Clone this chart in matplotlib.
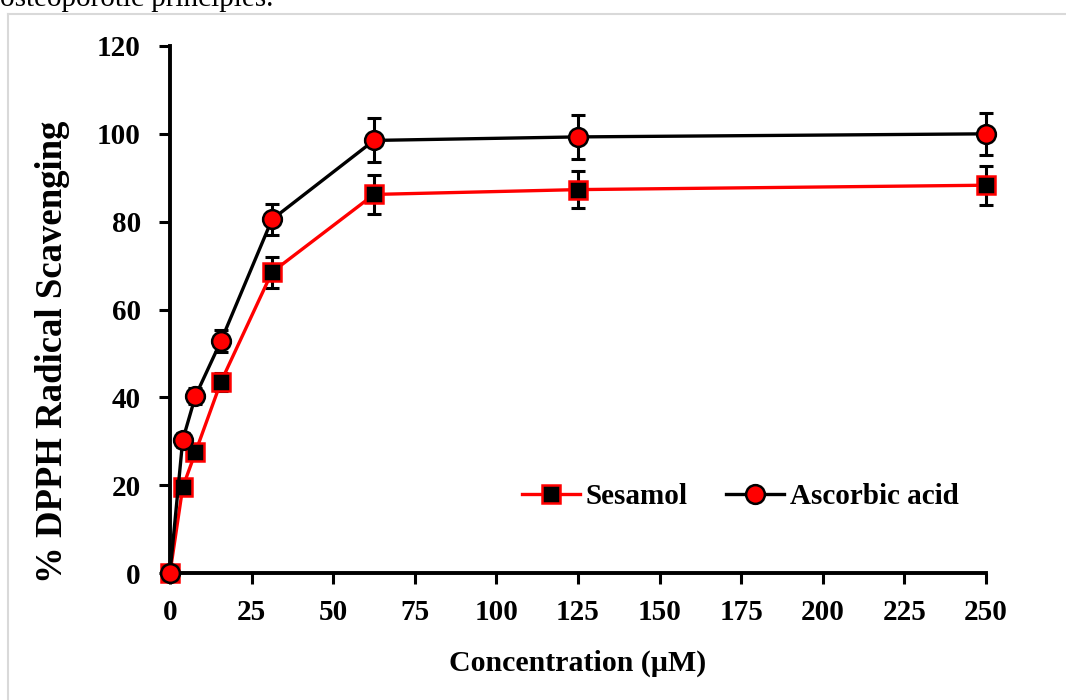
import matplotlib
matplotlib.use('Agg')
import matplotlib.pyplot as plt
from matplotlib.lines import Line2D

# concentrations (uM)
conc = [0, 3.9, 7.8, 15.6, 31.25, 62.5, 125, 250]

# % DPPH radical scavenging
sesamol = [0, 19.5, 27.5, 43.5, 68.5, 86.2, 87.3, 88.3]
sesamol_err = [0, 1.5, 1.5, 2.0, 3.5, 4.5, 4.3, 4.4]
ascorbic = [0, 30.3, 40.3, 52.8, 80.5, 98.5, 99.3, 100.0]
ascorbic_err = [0, 1.5, 1.8, 2.5, 3.5, 5.0, 5.0, 4.8]

xticks = [0, 25, 50, 75, 100, 125, 150, 175, 200, 225, 250]
yticks = [0, 20, 40, 60, 80, 100, 120]

plt.rcParams['font.family'] = ['Liberation Serif', 'DejaVu Serif']

fig = plt.figure(figsize=(10.66, 7.0), dpi=100)
ax = fig.add_axes([170 / 1066, 1 - 573 / 700, (986 - 170) / 1066, (573 - 46) / 700])

ax.errorbar(conc, sesamol, yerr=sesamol_err, fmt='none', ecolor='black',
            elinewidth=2.2, capsize=5, capthick=2.2, zorder=3, clip_on=False)
ax.errorbar(conc, ascorbic, yerr=ascorbic_err, fmt='none', ecolor='black',
            elinewidth=2.2, capsize=5, capthick=2.2, zorder=3, clip_on=False)
ax.plot(conc, sesamol, color='red', lw=2.4, marker='s', ms=12.5,
        mfc='black', mec='red', mew=1.8, zorder=4, clip_on=False)
ax.plot(conc, ascorbic, color='black', lw=2.4, marker='o', ms=13.5,
        mfc='red', mec='black', mew=1.8, zorder=5, clip_on=False)

ax.set_xlim(0, 250)
ax.set_ylim(0, 120)
ax.set_xticks(xticks)
ax.set_yticks(yticks)
for s in ['top', 'right']:
    ax.spines[s].set_visible(False)
for s in ['left', 'bottom']:
    ax.spines[s].set_linewidth(2.8)
ax.tick_params(direction='out', length=8, width=2.2, labelsize=21, pad=13)
ax.tick_params(axis='x', pad=11)
for lab in ax.get_xticklabels() + ax.get_yticklabels():
    lab.set_fontweight('bold')

ax.set_xlabel('Concentration (µM)', fontsize=21.5, fontweight='bold', labelpad=17)
ax.set_ylabel('% DPPH Radical Scavenging', fontsize=26.5, fontweight='bold')
ax.yaxis.set_label_coords((70 - 170) / 816, (573 - 352) / 527)

handles = [
    Line2D([], [], color='red', lw=2.4, marker='s', ms=12.5, mfc='black', mec='red', mew=1.8),
    Line2D([], [], color='black', lw=2.4, marker='o', ms=13.5, mfc='red', mec='black', mew=1.8),
]
ax.legend(handles, ['Sesamol', 'Ascorbic acid'], ncol=2, frameon=False,
          loc='center', bbox_to_anchor=(740 / 1066, 1 - 497 / 700),
          bbox_transform=fig.transFigure, handlelength=2.0, handletextpad=0.2,
          columnspacing=1.3, prop={'size': 21, 'weight': 'bold'})

# page frame and cropped caption from the source document
fig.add_artist(Line2D([8 / 1066, 8 / 1066], [0, 1 - 14 / 700], transform=fig.transFigure,
                      color='#d9d9d9', lw=1.5))
fig.add_artist(Line2D([8 / 1066, 1], [1 - 14 / 700, 1 - 14 / 700], transform=fig.transFigure,
                      color='#d9d9d9', lw=1.5))
fig.text(0.0, 1 - 6 / 700, 'osteoporotic principles.', fontsize=21,
         va='baseline', ha='left')

fig.savefig('out.png', dpi=100)
